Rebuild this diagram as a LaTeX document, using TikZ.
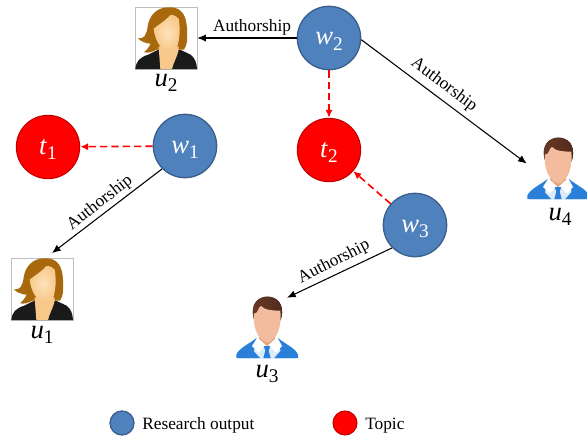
\documentclass[tikz,border=0pt]{standalone}
\usepackage{fontspec}
\setmainfont{Liberation Serif}
\usetikzlibrary{arrows.meta}
\definecolor{bluefill}{HTML}{4F81BD}
\definecolor{blueedge}{HTML}{3A5F8C}
\definecolor{rededge}{HTML}{C00000}
\definecolor{hairw}{HTML}{A8680C}
\definecolor{skinw}{HTML}{F8C88A}
\definecolor{skinwl}{HTML}{FDE3BC}
\definecolor{suitw}{HTML}{1A1A1A}
\definecolor{hairm}{HTML}{6B3A26}
\definecolor{hairml}{HTML}{4F2A1C}
\definecolor{skinm}{HTML}{F3BC9F}
\definecolor{skinmd}{HTML}{E8A27E}
\definecolor{suitm}{HTML}{2A7FD8}
\definecolor{shirtm}{HTML}{DCEBFA}
\newcommand{\lbl}[2]{{\fontsize{20}{24}\selectfont\textit{#1}\raisebox{-.22em}{\fontsize{14.5}{16}\selectfont #2}}}
\tikzset{
  x=0.75pt,y=-0.75pt,
  res/.style={circle,draw=blueedge,line width=1pt,fill=bluefill,minimum size=47.5pt,inner sep=0pt,text=white,text height=10.5pt,text depth=0pt},
  topic/.style={circle,draw=rededge,line width=0.8pt,fill=red,minimum size=47.5pt,inner sep=0pt,text=white,text height=10.5pt,text depth=0pt},
  reskey/.style={circle,draw=blueedge,line width=1pt,fill=bluefill,minimum size=18pt,inner sep=0pt},
  topickey/.style={circle,draw=rededge,line width=0.8pt,fill=red,minimum size=18pt,inner sep=0pt},
  auth/.style={-{Latex[length=6.5pt,width=5.5pt]},black,line width=0.8pt},
  rel/.style={-{Latex[length=6pt,width=5.5pt]},red,line width=1.2pt,dash pattern=on 5.5pt off 3pt},
  photo/.style={minimum width=46.5pt,minimum height=46.5pt,inner sep=0pt,draw=none},
  txt/.style={font=\fontsize{13}{15}\selectfont,inner sep=0pt,text=black},
  under/.style={inner sep=0pt,text=black,text height=10.5pt,text depth=0pt},
}
\newcommand{\womanpic}[3]{%
  \node[photo,draw=black!25,line width=.4pt] (#1) at (#2,#3) {};
  \begin{scope}[shift={(#2,#3)},x=0.25pt,y=-0.25pt,shift={(-138,-115)}]
    \fill[suitw] (46,208) .. controls (48,185) and (60,172) .. (85,165) -- (115,150) -- (180,150) -- (212,165) .. controls (225,175) and (230,190) .. (231,208) -- cycle;
    \fill[hairw] (140,23) .. controls (175,20) and (195,35) .. (200,75) .. controls (203,110) and (203,135) .. (192,150) -- (110,150) .. controls (95,158) and (85,160) .. (72,158) .. controls (82,150) and (88,140) .. (92,132) .. controls (78,132) and (63,125) .. (53,116) .. controls (72,120) and (80,105) .. (83,80) .. controls (88,48) and (108,26) .. (140,23) -- cycle;
    \fill[skinw] (116,140) -- (176,140) -- (176,151) .. controls (172,170) and (160,190) .. (156,208) -- (121,208) .. controls (119,185) and (118,165) .. (116,146) -- cycle;
    \shade[inner color=skinwl,outer color=skinw] (101,87) .. controls (115,75) and (135,65) .. (151,46) .. controls (162,46) and (172,50) .. (176,57) .. controls (182,90) and (178,120) .. (172,140) .. controls (160,150) and (148,153) .. (136,151) .. controls (118,145) and (104,115) .. (101,87) -- cycle;
  \end{scope}}
\newcommand{\manpic}[3]{%
  \node[photo] (#1) at (#2,#3) {};
  \begin{scope}[shift={(#2,#3)},x=0.25pt,y=-0.25pt,shift={(-143,-115)}]
    \fill[suitm] (51,208) -- (51,198) .. controls (58,180) and (85,168) .. (112,148) -- (176,148) .. controls (200,168) and (228,178) .. (236,198) -- (236,208) -- cycle;
    \fill[shirtm] (112,150) -- (176,150) -- (188,208) -- (100,208) -- cycle;
    \fill[white] (113,148) -- (98,172) -- (118,192) -- (143,165) -- (170,192) -- (188,172) -- (175,148) -- cycle;
    \fill[suitm] (96,180) -- (122,208) -- (60,208) -- cycle;
    \fill[suitm] (190,180) -- (165,208) -- (226,208) -- cycle;
    \fill[skinmd] (122,130) -- (165,130) -- (168,150) -- (143,172) -- (119,150) -- cycle;
    \fill[suitm] (133,172) -- (153,172) -- (148,186) -- (154,208) -- (132,208) -- (138,186) -- cycle;
    \fill[left color=hairm,right color=hairml] (103,88) .. controls (92,45) and (118,24) .. (144,24) .. controls (172,24) and (196,45) .. (186,88) -- (180,100) -- (108,100) -- cycle;
    \fill[skinm] (104,75) .. controls (115,78) and (118,52) .. (125,52) .. controls (135,65) and (165,66) .. (183,66) .. controls (187,105) and (178,152) .. (144,162) .. controls (112,152) and (100,110) .. (104,75) -- cycle;
  \end{scope}}
\begin{document}
\begin{tikzpicture}[x=0.75pt,y=-0.75pt]
\useasboundingbox (0,0) rectangle (587,439);
\fill[white] (0,0) rectangle (587,439);
% people
\womanpic{u2}{166}{38}
\womanpic{u1}{42}{289}
\manpic{u4}{558}{168}
\manpic{u3}{267}{327}
% nodes
\node[res] (w2) at (329,38) {\lbl{w}{2}};
\node[res] (w1) at (185,146) {\lbl{w}{1}};
\node[res] (w3) at (415,225) {\lbl{w}{3}};
\node[topic] (t1) at (48,147) {\lbl{t}{1}};
\node[topic] (t2) at (329,150) {\lbl{t}{2}};
% person labels
\node[under] (lu2) at (166,79) {\lbl{u}{2}};
\node[under] (lu1) at (42,331) {\lbl{u}{1}};
\node[under] (lu3) at (267,370) {\lbl{u}{3}};
\node[under] (lu4) at (560,213) {\lbl{u}{4}};
% connectors
\draw[auth] (w2) -- (u2);
\draw[auth] (w2.-3) -- (u4.172);
\draw[auth] (w1.-135) -- ([xshift=7.5pt,yshift=3.5pt]u1.north);
\draw[auth] (w3.-135) -- ([xshift=15pt,yshift=-1.5pt]u3.north);
\draw[rel] (w1) -- (t1);
\draw[rel] (w2) -- (t2);
\draw[rel] (w3) -- (t2);
% connector labels
\node[txt] (a2) at (252,27) {Authorship};
\node[txt,rotate=-37] (a4) at (444,85) {Authorship};
\node[txt,rotate=38] (a1) at (100,203) {Authorship};
\node[txt,rotate=27] (a3) at (334,262) {Authorship};
% legend
\node[reskey] (k1) at (122,423) {};
\node[txt,anchor=base west] (k1t) at (142,429) {Research output};
\node[topickey] (k2) at (345,423) {};
\node[txt,anchor=base west] (k2t) at (365,429) {Topic};
\end{tikzpicture}
\end{document}
